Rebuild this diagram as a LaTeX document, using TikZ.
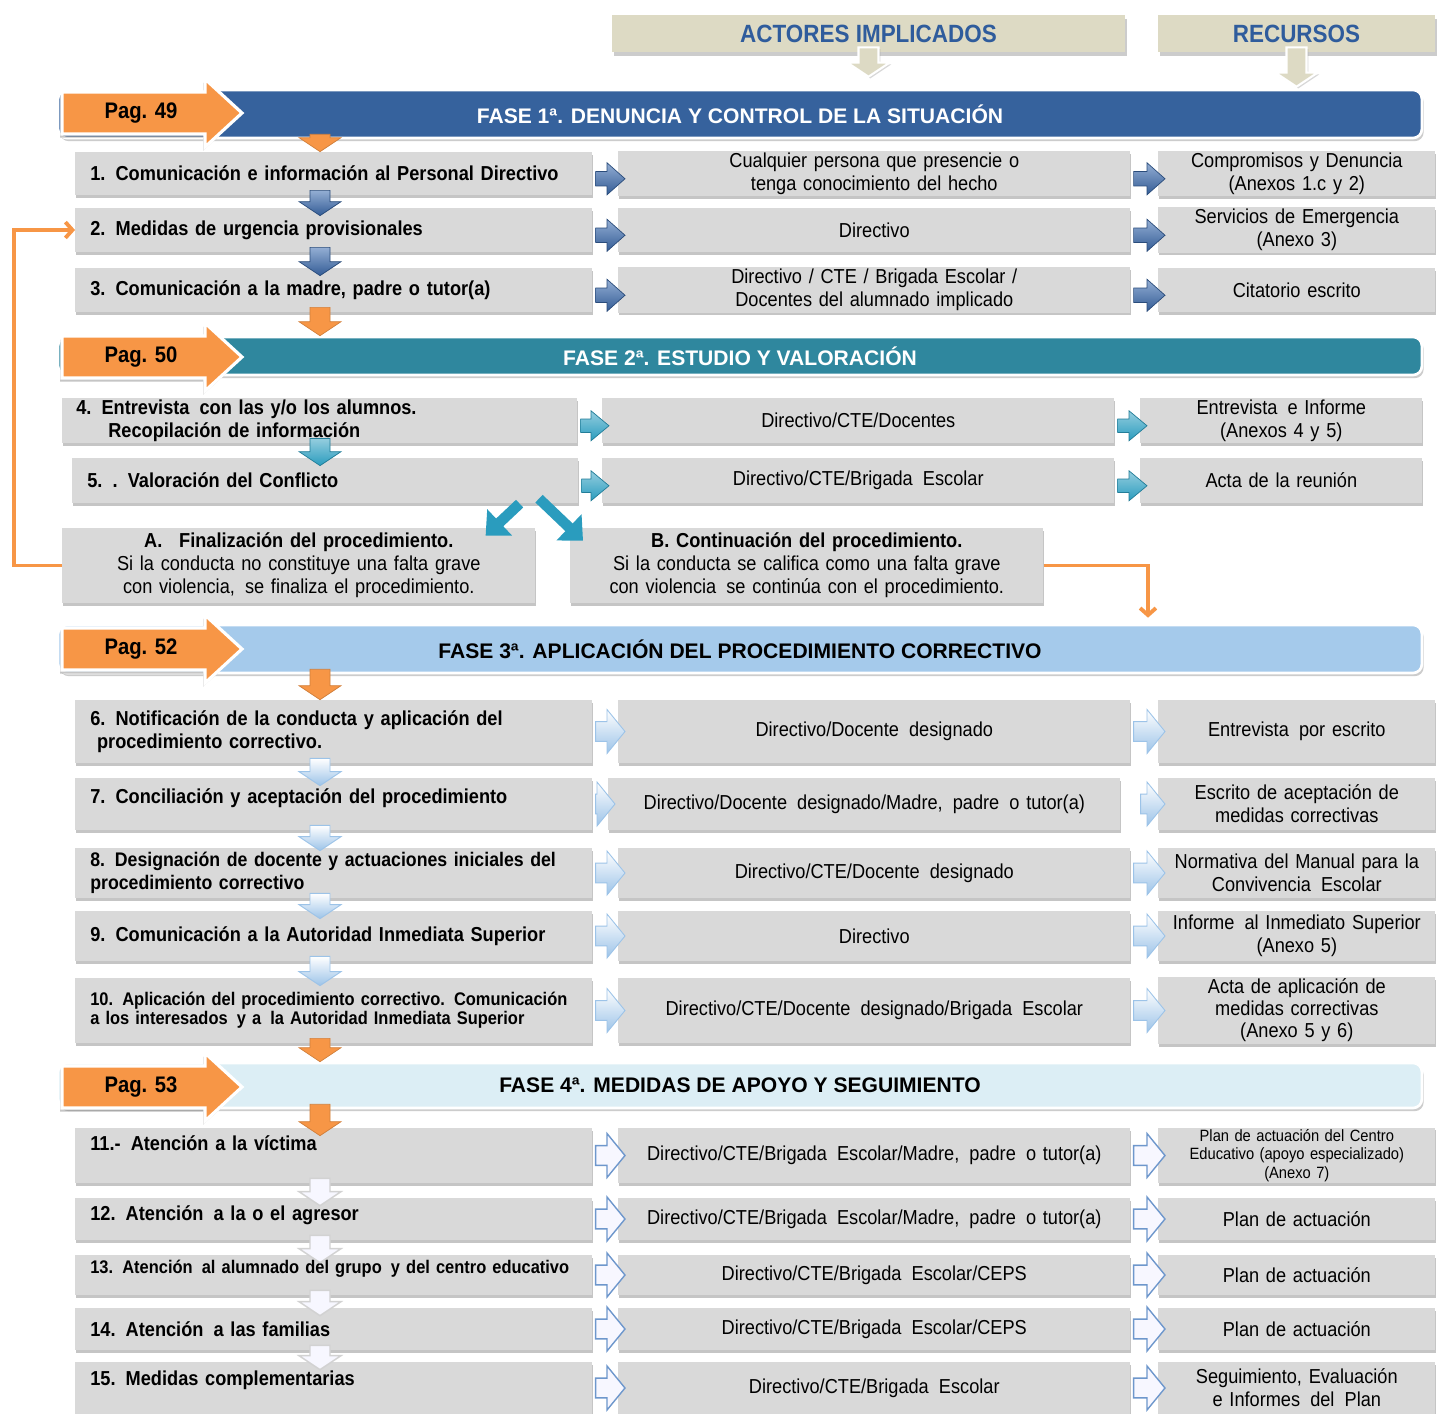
\documentclass[tikz,border=0pt]{standalone}
\usepackage{fontspec}
\setmainfont{Liberation Sans}
\newfontfamily\narrowfont{Liberation Sans}[FakeStretch=0.9]
\usetikzlibrary{calc,shadows,arrows.meta}

\definecolor{cellgray}{HTML}{D9D9D9}
\definecolor{hdbeige}{HTML}{DDDAC4}
\definecolor{hdblue}{HTML}{2F5C9C}
\definecolor{fasea}{HTML}{36629D}
\definecolor{faseb}{HTML}{2F879E}
\definecolor{fasec}{HTML}{A5CAEB}
\definecolor{fased}{HTML}{DCEEF5}
\definecolor{pagorange}{HTML}{F79646}
\definecolor{bluea}{HTML}{3C6CB0}
\definecolor{tealb}{HTML}{2A9CBE}
\definecolor{lightc}{HTML}{9CC3E8}
\definecolor{outlined}{HTML}{6E97CC}

\tikzset{
  cell/.style={fill=cellgray, inner ysep=1pt, anchor=west,
    drop shadow={shadow xshift=0.6pt, shadow yshift=-1.6pt, opacity=0.45}},
  lbox/.style={cell, minimum height=#1cm, text width=9.74cm, inner xsep=0.3cm,
    align=left, font=\narrowfont\bfseries\fontsize{11.5}{13}\selectfont},
  mbox/.style={cell, minimum height=#1cm, text width=9.8cm, inner xsep=0.22cm,
    align=center, font=\narrowfont\fontsize{11.5}{13}\selectfont},
  rbox/.style={cell, minimum height=#1cm, text width=5.34cm, inner xsep=0.1cm,
    align=center, font=\narrowfont\fontsize{11.5}{13}\selectfont},
  abox/.style={cell, minimum height=1.5cm, text width=9.26cm, inner xsep=0.1cm,
    align=center, font=\narrowfont\fontsize{11.5}{13}\selectfont},
  hdbox/.style={fill=hdbeige, minimum height=0.74cm, text=hdblue,
    font=\narrowfont\bfseries\fontsize{14.2}{17}\selectfont,
    drop shadow={shadow xshift=1pt, shadow yshift=-2pt, opacity=0.4}},
  fasebar/.style={minimum width=27.28cm, rounded corners=5pt, draw=white, line width=1.5pt,
    font=\bfseries\fontsize{12}{14}\selectfont,
    drop shadow={shadow xshift=1pt, shadow yshift=-1.8pt, opacity=0.4}},
  pagarr/.style={fill=pagorange, draw=white, line width=1.8pt,
    drop shadow={shadow xshift=-1pt, shadow yshift=-2pt, opacity=0.45}},
  pagtxt/.style={font=\narrowfont\bfseries\fontsize{12.8}{15}\selectfont},
  % flechas de bloque entre nodos
  rarr/.style={to path={let \p1=(\tikztostart), \p2=(\tikztotarget) in
    (\x1+0.06cm,\y1+#1*0.009cm) -- (\x2-0.22cm,\y1+#1*0.009cm) -- (\x2-0.22cm,\y1+#1*0.02cm)
    -- (\x2+0.14cm,\y1) -- (\x2-0.22cm,\y1-#1*0.02cm) -- (\x2-0.22cm,\y1-#1*0.009cm)
    -- (\x1+0.06cm,\y1-#1*0.009cm) -- cycle}},
  dnarr/.style={to path={let \p1=(\tikztostart), \p2=(\tikztotarget) in
    (\x1-0.2cm,\y1+0.1cm) -- (\x1-0.2cm,\y2+0.28cm-#1*0.02cm) -- (\x1-0.42cm,\y2+0.28cm-#1*0.02cm)
    -- (\x1,\y2-#1*0.02cm) -- (\x1+0.42cm,\y2+0.28cm-#1*0.02cm) -- (\x1+0.2cm,\y2+0.28cm-#1*0.02cm)
    -- (\x1+0.2cm,\y1+0.1cm) -- cycle}},
  arro/.style={fill=pagorange, draw=pagorange!85!black, line width=0.4pt},
  arra/.style={top color=bluea!55, bottom color=bluea!85!black, draw=bluea!70!black, line width=0.4pt},
  arrb/.style={top color=tealb!50, bottom color=tealb, draw=tealb!80!black, line width=0.4pt},
  arrc/.style={top color=white, bottom color=lightc, draw=lightc, line width=0.5pt},
  arrd/.style={fill=blue!3, draw=outlined, line width=0.8pt},
  hdarr/.style={fill=hdbeige, draw=white, line width=1.2pt,
    drop shadow={shadow xshift=1pt, shadow yshift=-1pt, opacity=0.3}},
  diag/.style={tealb, line width=6pt, -{Triangle[length=11pt,width=20pt]}},
  oline/.style={pagorange, line width=2.2pt, -{Straight Barb[length=4pt,width=9pt]}},
}

\begin{document}
\begin{tikzpicture}[x=0.02cm, y=-0.02cm]
\fill[white] (0,0) rectangle (1438,1414);
\useasboundingbox (0,0) rectangle (1438,1414);
\coordinate (ax) at (320,0);
\coordinate (bx) at (1148,0);

% encabezados
\node[hdbox, minimum width=10.26cm] (act) at (868.5,33.5) {ACTORES IMPLICADOS};
\node[hdbox, minimum width=5.54cm] (rec) at (1296.5,33.5) {RECURSOS};

% FASE 1
\node[fasebar, fill=fasea, text=white, minimum height=0.96cm] (f1) at (740,114) {FASE 1ª. DENUNCIA Y CONTROL DE LA SITUACIÓN};
\draw[hdarr, dnarr=0] (act.south) to ($(act.south |- f1.north)+(0,-12)$);
\draw[hdarr, dnarr=0] (rec.south) to ($(rec.south |- f1.north)+(0,-2)$);
\draw[pagarr] (62,92) -- ++(143,0) -- ++(0,-13) -- ++(37,34) -- ++(-37,34) -- ++(0,-13) -- ++(-143,0) -- cycle;
\node[pagtxt] (p1) at (141,113) {Pag. 49};

\node[lbox=0.86] (l1) at (75,173.5) {1. Comunicación e información al Personal Directivo};
\node[mbox=0.86] (m1) at (618,173.5) {Cualquier persona que presencie o\\tenga conocimiento del hecho};
\node[rbox=0.86] (r1) at (1158,173.5) {Compromisos y Denuncia\\(Anexos 1.c y 2)};
\node[lbox=0.88] (l2) at (75,230) {2.\enspace Medidas de urgencia provisionales};
\node[mbox=0.88] (m2) at (618,230) {Directivo};
\node[rbox=0.88] (r2) at (1158,230) {Servicios de Emergencia\\(Anexo 3)};
\node[lbox=0.88] (l3) at (75,290) {3. Comunicación a la madre, padre o tutor(a)};
\node[mbox=0.88] (m3) at (618,290) {Directivo / CTE / Brigada Escolar /\\Docentes del alumnado implicado};
\node[rbox=0.88] (r3) at (1158,290) {Citatorio escrito};

\draw[arro, dnarr=0] (f1.south -| ax) to (l1.north -| ax);
\draw[arra, dnarr=8] (l1.south -| ax) to (l2.north -| ax);
\draw[arra, dnarr=8] (l2.south -| ax) to (l3.north -| ax);
\draw[arra, rarr=16] ([yshift=-3pt]l1.east) to (m1.west);
\draw[arra, rarr=16] ([yshift=-3pt]m1.east) to (r1.west);
\draw[arra, rarr=16] ([yshift=-3pt]l2.east) to (m2.west);
\draw[arra, rarr=16] ([yshift=-3pt]m2.east) to (r2.west);
\draw[arra, rarr=16] ([yshift=-3pt]l3.east) to (m3.west);
\draw[arra, rarr=16] ([yshift=-3pt]m3.east) to (r3.west);

% FASE 2
\node[fasebar, fill=faseb, text=white, minimum height=0.76cm] (f2) at (740,356) {FASE 2ª. ESTUDIO Y VALORACIÓN};
\draw[arro, dnarr=0] (l3.south -| ax) to (f2.north -| ax);
\draw[pagarr] (62,336) -- ++(143,0) -- ++(0,-13) -- ++(37,34) -- ++(-37,34) -- ++(0,-13) -- ++(-143,0) -- cycle;
\node[pagtxt] (p2) at (141,357) {Pag. 50};

\node[lbox=0.9, inner xsep=0.28cm] (l4) at (62,420.5) {4.\enspace Entrevista\enspace con las y/o los alumnos.\\\hspace*{0.64cm}Recopilación de información};
\node[mbox=0.9] (m4) at (602,420.5) {Directivo/CTE/Docentes};
\node[rbox=0.9, text width=5.44cm] (r4) at (1140,420.5) {Entrevista\enspace e Informe\\(Anexos 4 y 5)};
\node[lbox=0.9, text width=9.52cm] (l5) at (72,480.5) {5. . Valoración del Conflicto};
\node[mbox=0.9] (m5) at (602,480.5) {Directivo/CTE/Brigada\enspace Escolar};
\node[rbox=0.9, text width=5.44cm] (r5) at (1140,480.5) {Acta de la reunión};
\node[abox] (A) at (62,565.5) {\textbf{A.\enspace\ Finalización del procedimiento.}\\Si la conducta no constituye una falta grave\\con violencia,\enspace se finaliza el procedimiento.};
\node[abox] (B) at (570,565.5) {\textbf{B. Continuación del procedimiento.}\\Si la conducta se califica como una falta grave\\con violencia\enspace se continúa con el procedimiento.};

\draw[arrb, dnarr=8] (l4.south -| ax) to (l5.north -| ax);
\draw[arrb, rarr=15] ([yshift=-3pt]l4.east) to (m4.west);
\draw[arrb, rarr=15] ([yshift=-3pt]m4.east) to (r4.west);
\draw[arrb, rarr=15] ([yshift=-3pt]l5.east) to (m5.west);
\draw[arrb, rarr=15] ([yshift=-3pt]m5.east) to (r5.west);
\draw[diag] ($(A.north east)+(-16,-24)$) -- ($(A.north east)+(-50,8)$);
\draw[diag] ($(B.north west)+(-31,-29)$) -- ($(B.north west)+(13,13)$);

% FASE 3
\node[fasebar, fill=fasec, text=black, minimum height=0.96cm] (f3) at (740,649) {FASE 3ª. APLICACIÓN DEL PROCEDIMIENTO CORRECTIVO};
\draw[oline] (A.west) -- ++(-48,0) |- (l2.west);
\draw[oline] (B.east) -| ($(f3.north -| bx)+(0,-6)$);
\draw[pagarr] (62,628) -- ++(143,0) -- ++(0,-13) -- ++(37,34) -- ++(-37,34) -- ++(0,-13) -- ++(-143,0) -- cycle;
\node[pagtxt] (p3) at (141,649) {Pag. 52};

\node[lbox=1.26] (l6) at (75,731.5) {6. Notificación de la conducta y aplicación del\\\ procedimiento correctivo.};
\node[mbox=1.26] (m6) at (618,731.5) {Directivo/Docente\enspace designado};
\node[rbox=1.26] (r6) at (1158,731.5) {Entrevista\enspace por escrito};
\node[lbox=1.04, text depth=9pt] (l7) at (75,804) {7.\enspace Conciliación y aceptación del procedimiento};
\node[mbox=1.04] (m7) at (608,804) {Directivo/Docente\enspace designado/Madre,\enspace padre\enspace o tutor(a)};
\node[rbox=1.04] (r7) at (1158,804) {Escrito de aceptación de\\medidas correctivas};
\node[lbox=1.0, font=\narrowfont\bfseries\fontsize{11.2}{13}\selectfont] (l8) at (75,873) {8. Designación de docente y actuaciones iniciales del\\procedimiento correctivo};
\node[mbox=1.0] (m8) at (618,873) {Directivo/CTE/Docente\enspace designado};
\node[rbox=1.0] (r8) at (1158,873) {Normativa del Manual para la\\Convivencia\enspace Escolar};
\node[lbox=1.0] (l9) at (75,936) {9. Comunicación a la Autoridad Inmediata Superior};
\node[mbox=1.0] (m9) at (618,936) {Directivo};
\node[rbox=1.0] (r9) at (1158,936) {Informe\enspace al Inmediato Superior\\(Anexo 5)};
\node[lbox=1.3, font=\narrowfont\bfseries\fontsize{10.4}{10.8}\selectfont] (l10) at (75,1010.5) {10. Aplicación del procedimiento correctivo. Comunicación\\a los interesados\enspace y a\enspace la Autoridad Inmediata Superior};
\node[mbox=1.3] (m10) at (618,1010.5) {Directivo/CTE/Docente\enspace designado/Brigada\enspace Escolar};
\node[rbox=1.3, font=\narrowfont\fontsize{11.5}{12.6}\selectfont] (r10) at (1158,1010.5) {Acta de aplicación de\\medidas correctivas\\(Anexo 5 y 6)};

\draw[arro, dnarr=0] (f3.south -| ax) to (l6.north -| ax);
\draw[arrc, dnarr=8] (l6.south -| ax) to (l7.north -| ax);
\draw[arrc, dnarr=3] (l7.south -| ax) to (l8.north -| ax);
\draw[arrc, dnarr=8] (l8.south -| ax) to (l9.north -| ax);
\draw[arrc, dnarr=8] (l9.south -| ax) to (l10.north -| ax);
\draw[arrc, rarr=22] (l6.east) to (m6.west);
\draw[arrc, rarr=22] (m6.east) to (r6.west);
\draw[arrc, rarr=22] (l7.east) to (m7.west);
\draw[arrc, rarr=22] ([xshift=0.34cm]m7.east) to (r7.west);
\draw[arrc, rarr=22] (l8.east) to (m8.west);
\draw[arrc, rarr=22] (m8.east) to (r8.west);
\draw[arrc, rarr=22] (l9.east) to (m9.west);
\draw[arrc, rarr=22] (m9.east) to (r9.west);
\draw[arrc, rarr=22] (l10.east) to (m10.west);
\draw[arrc, rarr=22] (m10.east) to (r10.west);

% FASE 4
\node[fasebar, fill=fased, text=black, minimum height=0.9cm] (f4) at (740,1085.5) {FASE 4ª. MEDIDAS DE APOYO Y SEGUIMIENTO};
\draw[arro, dnarr=0] (l10.south -| ax) to (f4.north -| ax);
\draw[pagarr] (62,1066) -- ++(143,0) -- ++(0,-13) -- ++(37,34) -- ++(-37,34) -- ++(0,-13) -- ++(-143,0) -- cycle;
\node[pagtxt] (p4) at (141,1087) {Pag. 53};

\node[lbox=1.1, text depth=13.6pt] (l11) at (75,1155.5) {11.-\enspace Atención a la víctima};
\node[mbox=1.1] (m11) at (618,1155.5) {Directivo/CTE/Brigada\enspace Escolar/Madre,\enspace padre\enspace o tutor(a)};
\node[rbox=1.1, font=\narrowfont\fontsize{9.3}{10.5}\selectfont] (r11) at (1158,1155.5) {Plan de actuación del Centro\\Educativo (apoyo especializado)\\(Anexo 7)};
\node[lbox=0.84, text depth=6.8pt] (l12) at (75,1219) {12. Atención\enspace a la o el agresor};
\node[mbox=0.84] (m12) at (618,1219) {Directivo/CTE/Brigada\enspace Escolar/Madre,\enspace padre\enspace o tutor(a)};
\node[rbox=0.84] (r12) at (1158,1219) {Plan de actuación};
\node[lbox=0.8, text depth=9pt, font=\narrowfont\bfseries\fontsize{10.4}{11}\selectfont] (l13) at (75,1275) {13. Atención\enspace al alumnado del grupo\enspace y del centro educativo};
\node[mbox=0.8] (m13) at (618,1275) {Directivo/CTE/Brigada\enspace Escolar/CEPS};
\node[rbox=0.8] (r13) at (1158,1275) {Plan de actuación};
\node[lbox=0.84] (l14) at (75,1329) {14. Atención\enspace a las familias};
\node[mbox=0.84] (m14) at (618,1329) {Directivo/CTE/Brigada\enspace Escolar/CEPS};
\node[rbox=0.84] (r14) at (1158,1329) {Plan de actuación};
\node[lbox=1.04, text depth=11.3pt] (l15) at (75,1388) {15. Medidas complementarias};
\node[mbox=1.04] (m15) at (618,1388) {Directivo/CTE/Brigada\enspace Escolar};
\node[rbox=1.04] (r15) at (1158,1388) {Seguimiento, Evaluación\\e Informes\enspace del\enspace Plan};

\draw[arro, dnarr=8] (f4.south -| ax) to (l11.north -| ax);
\draw[arrd, draw=gray!35, dnarr=8] (l11.south -| ax) to (l12.north -| ax);
\draw[arrd, draw=gray!35, dnarr=8] (l12.south -| ax) to (l13.north -| ax);
\draw[arrd, draw=gray!35, dnarr=8] (l13.south -| ax) to (l14.north -| ax);
\draw[arrd, draw=gray!35, dnarr=8] (l14.south -| ax) to (l15.north -| ax);
\draw[arrd, rarr=22] (l11.east) to (m11.west);
\draw[arrd, rarr=22] (m11.east) to (r11.west);
\draw[arrd, rarr=22] (l12.east) to (m12.west);
\draw[arrd, rarr=22] (m12.east) to (r12.west);
\draw[arrd, rarr=22] (l13.east) to (m13.west);
\draw[arrd, rarr=22] (m13.east) to (r13.west);
\draw[arrd, rarr=22] (l14.east) to (m14.west);
\draw[arrd, rarr=22] (m14.east) to (r14.west);
\draw[arrd, rarr=22] (l15.east) to (m15.west);
\draw[arrd, rarr=22] (m15.east) to (r15.west);
\end{tikzpicture}
\end{document}
